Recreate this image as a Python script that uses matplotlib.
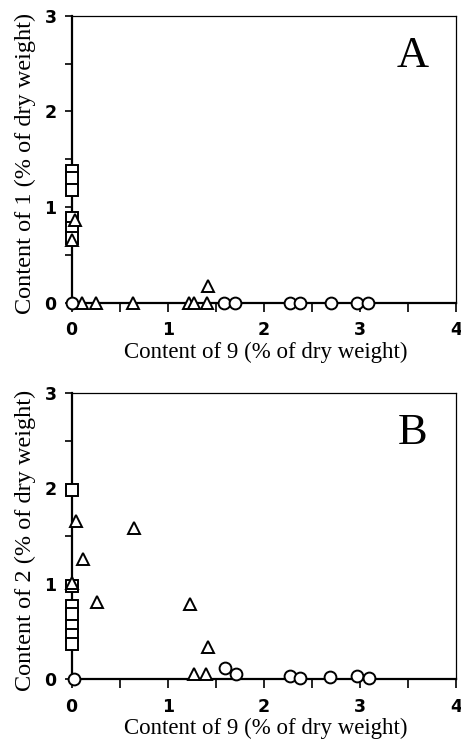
import matplotlib
matplotlib.use("Agg")
import matplotlib.pyplot as plt
from matplotlib.ticker import MultipleLocator

# ---- data ----
sq_A_x = [0, 0, 0, 0, 0, 0]
sq_A_y = [1.38, 1.30, 1.18, 0.89, 0.78, 0.68]
tri_A_x = [0.03, 0.0, 0.11, 0.25, 0.64, 1.22, 1.27, 1.41, 1.42]
tri_A_y = [0.86, 0.66, 0.0, 0.0, 0.0, 0.0, 0.0, 0.0, 0.18]
circ_A_x = [0.0, 1.58, 1.70, 2.27, 2.38, 2.70, 2.97, 3.08]
circ_A_y = [0, 0, 0, 0, 0, 0, 0, 0]

sq_B_x = [0, 0, 0, 0, 0, 0, 0]
sq_B_y = [1.98, 0.98, 0.77, 0.68, 0.56, 0.46, 0.37]
tri_B_x = [0.04, 0.12, 0.0, 0.26, 0.65, 1.23, 1.42, 1.27, 1.40]
tri_B_y = [1.66, 1.26, 1.01, 0.81, 1.58, 0.79, 0.34, 0.05, 0.05]
circ_B_x = [0.02, 1.60, 1.71, 2.27, 2.38, 2.69, 2.97, 3.09]
circ_B_y = [0.0, 0.11, 0.05, 0.03, 0.01, 0.02, 0.03, 0.01]

x_ticks = [0, 1, 2, 3, 4]
y_ticks = [0, 1, 2, 3]

panels = [
    dict(label="A", ylabel="Content of 1 (% of dry weight)",
         sq=(sq_A_x, sq_A_y), tri=(tri_A_x, tri_A_y), circ=(circ_A_x, circ_A_y),
         rect=[0.1555, 0.5931, 0.834, 0.3858]),
    dict(label="B", ylabel="Content of 2 (% of dry weight)",
         sq=(sq_B_x, sq_B_y), tri=(tri_B_x, tri_B_y), circ=(circ_B_x, circ_B_y),
         rect=[0.1555, 0.0874, 0.834, 0.3844]),
]

fig = plt.figure(figsize=(4.61, 7.44), dpi=100)
serif = ["Liberation Serif", "DejaVu Serif"]
mk = dict(linestyle="none", markerfacecolor="white", markeredgecolor="black",
          markeredgewidth=1.4, clip_on=False)

for p in panels:
    ax = fig.add_axes(p["rect"])
    ax.set_xlim(0, 4)
    ax.set_ylim(0, 3)
    ax.plot(*p["sq"], marker="s", markersize=8, zorder=3, **mk)
    ax.plot(*p["tri"], marker="^", markersize=9, zorder=4, **mk)
    ax.plot(*p["circ"], marker="o", markersize=8.5, zorder=5, **mk)

    for s in ["left", "bottom"]:
        ax.spines[s].set_linewidth(1.6)
    for s in ["top", "right"]:
        ax.spines[s].set_linewidth(0.9)

    ax.set_xticks(x_ticks)
    ax.set_yticks(y_ticks)
    ax.xaxis.set_minor_locator(MultipleLocator(0.5))
    ax.yaxis.set_minor_locator(MultipleLocator(0.5))
    ax.tick_params(axis="x", which="both", direction="out", length=6.5, width=1.2, pad=7)
    ax.tick_params(axis="y", which="both", direction="out", length=5, width=1.2, pad=6)
    ax.tick_params(top=False, right=False)
    for t in ax.get_xticklabels() + ax.get_yticklabels():
        t.set_fontfamily("DejaVu Sans")
        t.set_fontweight("heavy")
        t.set_fontsize(12.5)

    ax.set_xlabel("Content of 9 (% of dry weight)", fontsize=16.5, family=serif)
    ax.xaxis.set_label_coords(0.5056, -0.137)
    ax.set_ylabel(p["ylabel"], fontsize=17.5, family=serif)
    ax.yaxis.set_label_coords(-0.093, 0.485)

    ax.text(0.886, 0.86, p["label"], transform=ax.transAxes, fontsize=32,
            family=serif, ha="center", va="center")

fig.savefig("out.png", dpi=100)
